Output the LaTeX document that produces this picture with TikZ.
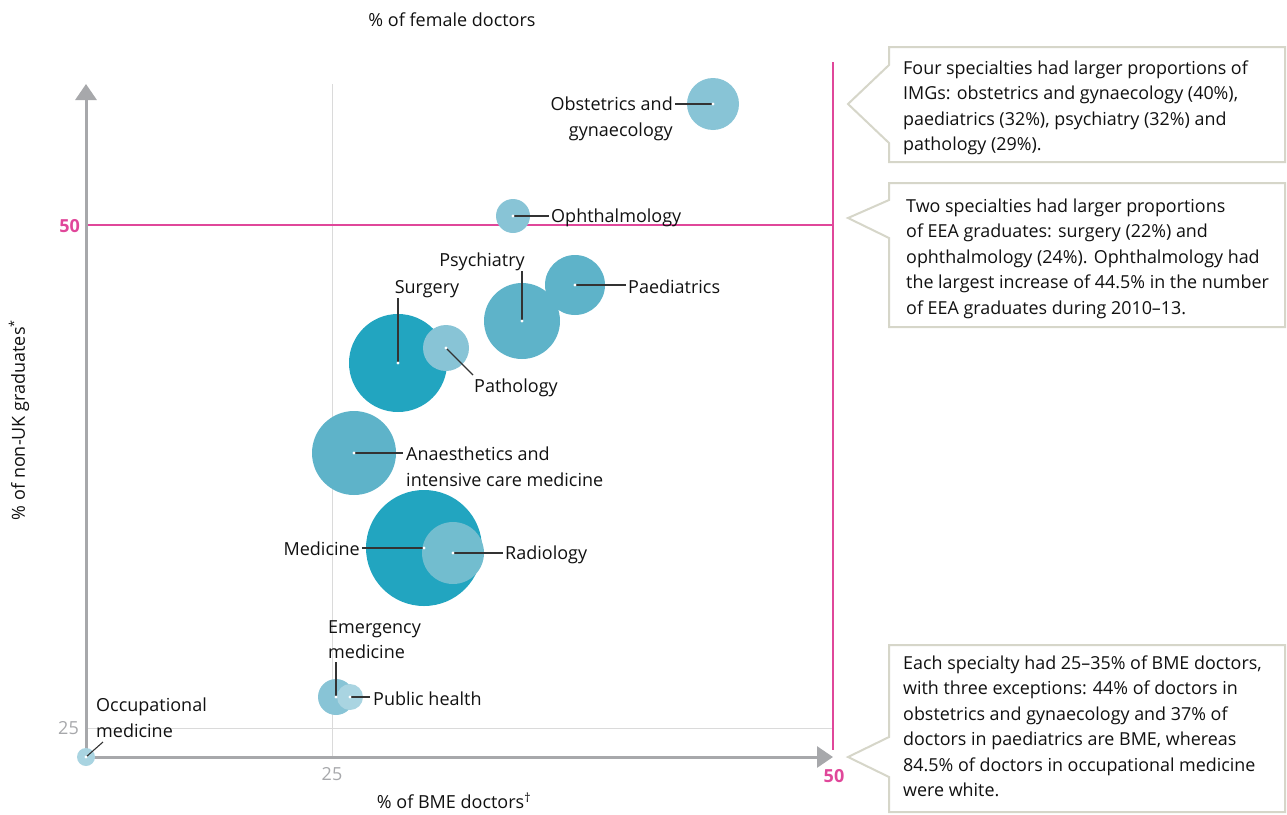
\documentclass[tikz,border=0pt]{standalone}
\usepackage{fontspec}
\setmainfont{Open Sans}
\usetikzlibrary{arrows.meta}
\definecolor{axisgray}{HTML}{A7A8AB}
\definecolor{gridgray}{HTML}{DADADA}
\definecolor{pinkc}{HTML}{E0479A}
\definecolor{cdark}{HTML}{22A5C0}
\definecolor{cmed}{HTML}{5EB3C9}
\definecolor{crad}{HTML}{72BDCF}
\definecolor{clight}{HTML}{88C4D6}
\definecolor{cpale}{HTML}{A9D4E1}
\definecolor{boxline}{HTML}{D6D6C9}
\definecolor{txt}{HTML}{111111}
\definecolor{leadc}{HTML}{333333}
\begin{document}
\begin{tikzpicture}[x=1pt,y=-1pt,
  bub/.style={circle, inner sep=0pt, draw=none},
  lab/.style={inner sep=0pt, text=txt, font=\fontsize{18}{25.5}\selectfont},
  multilab/.style={lab, align=left},
  leader/.style={draw=leadc, line width=1.1pt},
  callout/.style={draw=boxline, line width=2pt, fill=white},
  boxtext/.style={inner sep=0pt, text=txt, align=left, anchor=north west, font=\fontsize{17.9}{25.5}\selectfont},
  axisline/.style={draw=axisgray, line width=3pt},
  grid/.style={draw=gridgray, line width=1pt},
  pinkline/.style={draw=pinkc, line width=2pt},
  tick/.style={inner sep=0pt, font=\fontsize{18}{20}\selectfont}]
\useasboundingbox (0,0) rectangle (1287,814);

% grid lines
\draw[grid] (332,84) -- (332,757);
\draw[grid] (86,728) -- (833,728);
% pink thresholds
\draw[pinkline] (86,225) -- (833,225);
\draw[pinkline] (833,62) -- (833,750);
% axes
\draw[axisline, -{Triangle[width=21pt,length=16pt]}] (86,757) -- (86,84);
\draw[axisline, -{Triangle[width=21pt,length=16pt]}] (86,757) -- (833,757);

% tick labels
\node[tick, text=pinkc, anchor=east, font=\fontsize{18}{20}\selectfont\bfseries] (y50) at (80,226) {50};
\node[tick, text=axisgray, anchor=east] (y25) at (79,728) {25};
\node[tick, text=axisgray] (x25) at (332,774) {25};
\node[tick, text=pinkc, font=\fontsize{18}{20}\selectfont\bfseries] (x50) at (834,776) {50};

% axis titles
\node[lab] (ttop) at (452,20) {\% of female doctors};
\node[lab, rotate=90] (tleft) at (19,420) {\% of non-UK graduates\textsuperscript{*}};
\node[lab] (tbottom) at (454,801) {\% of BME doctors\textsuperscript{†}};

% bubbles
\node[bub, fill=clight, minimum size=52pt] (obs) at (713,104) {};
\node[bub, fill=clight, minimum size=34pt] (oph) at (513,216) {};
\node[bub, fill=cmed, minimum size=76pt] (psy) at (522,321) {};
\node[bub, fill=cmed, minimum size=60pt] (pae) at (575,285) {};
\node[bub, fill=cdark, minimum size=98pt] (sur) at (398,363) {};
\node[bub, fill=clight, minimum size=46pt] (pat) at (446,348) {};
\node[bub, fill=cmed, minimum size=84pt] (ana) at (354,453) {};
\node[bub, fill=cdark, minimum size=116pt] (med) at (424,548) {};
\node[bub, fill=crad, minimum size=62pt] (rad) at (453,553) {};
\node[bub, fill=clight, minimum size=36pt] (eme) at (336,697) {};
\node[bub, fill=cpale, minimum size=26pt] (pub) at (350,697) {};
\node[bub, fill=cpale, minimum size=18pt] (occ) at (86,757) {};

% labels
\node[multilab, align=right, anchor=north east] (obsl) at (673,97) {Obstetrics and\\gynaecology};
\node[lab, anchor=west] (ophl) at (551,218) {Ophthalmology};
\node[lab, anchor=west] (pael) at (628,287) {Paediatrics};
\node[lab] (psyl) at (482,262) {Psychiatry};
\node[lab] (surl) at (427,289) {Surgery};
\node[lab, anchor=west] (patl) at (474,388) {Pathology};
\node[multilab, anchor=north west] (anal) at (406,447) {Anaesthetics and\\intensive care medicine};
\node[lab, anchor=east] (medl) at (360,549) {Medicine};
\node[lab, anchor=west] (radl) at (505,555) {Radiology};
\node[multilab, anchor=north west] (emel) at (328,620) {Emergency\\medicine};
\node[lab, anchor=west] (publ) at (373,699) {Public health};
\node[multilab, anchor=north west] (occl) at (96,698) {Occupational\\medicine};

% leader end points
\coordinate (obsE) at (675,104);
\coordinate (ophE) at (549,216);
\coordinate (paeE) at (626,285);
\coordinate (psyE) at (522,271);
\coordinate (surE) at (398,298);
\coordinate (patE) at (473,375);
\coordinate (anaE) at (403,453);
\coordinate (medE) at (362,548);
\coordinate (radE) at (503,553);
\coordinate (emeE) at (336,662);
\coordinate (pubE) at (370,697);
\coordinate (occE) at (103,742);

\foreach \b in {obs,oph,pae,psy,sur,pat,ana,med,rad,eme,pub,occ}{
  \draw[leader] (\b.center) -- (\b E);
}
\foreach \b in {obs,oph,pae,psy,sur,pat,ana,med,rad,eme,pub,occ}{
  \fill[white] (\b.center) circle (1.6pt);
}

% callouts
\draw[callout] (889,47) -- (1285,47) -- (1285,162) -- (889,162) -- (889,143) -- (848,104) -- (889,65) -- cycle;
\node[boxtext] (c1) at (903,60.5) {Four specialties had larger proportions of\\IMGs: obstetrics and gynaecology (40\%),\\paediatrics (32\%), psychiatry (32\%) and\\pathology (29\%).};

\draw[callout] (889,183) -- (1285,183) -- (1285,327) -- (889,327) -- (889,238) -- (848,218) -- (889,200) -- cycle;
\node[boxtext] (c2) at (906,198.5) {Two specialties had larger proportions\\of EEA graduates: surgery (22\%) and\\ophthalmology (24\%). Ophthalmology had\\the largest increase of 44.5\% in the number\\of EEA graduates during 2010–13.};

\draw[callout] (889,645) -- (1285,645) -- (1285,812) -- (889,812) -- (889,777) -- (848,757) -- (889,737) -- cycle;
\node[boxtext] (c3) at (903,655.5) {Each specialty had 25–35\% of BME doctors,\\with three exceptions: 44\% of doctors in\\obstetrics and gynaecology and 37\% of\\doctors in paediatrics are BME, whereas\\84.5\% of doctors in occupational medicine\\were white.};
\end{tikzpicture}
\end{document}
